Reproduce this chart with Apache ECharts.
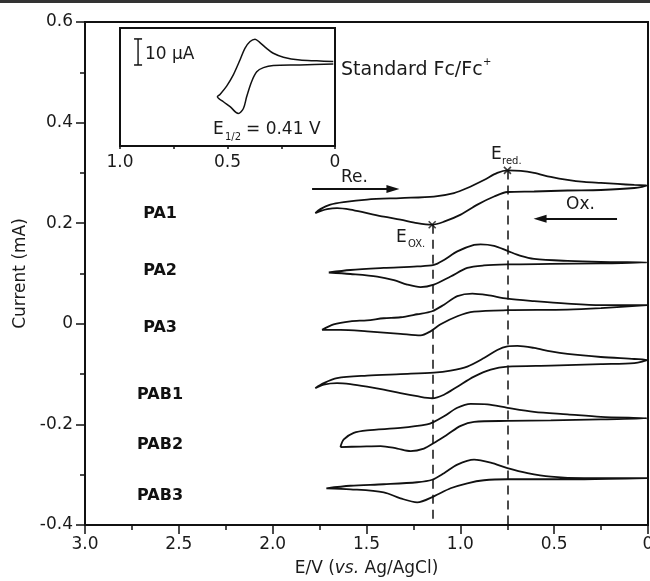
<!DOCTYPE html>
<html>
<head>
<meta charset="utf-8">
<script src="https://cdn.jsdelivr.net/npm/echarts@6/dist/echarts.min.js"></script>
<style>
html, body { margin: 0; padding: 0; background: #fff; }
#main { width: 650px; height: 581px; }
</style>
</head>
<body>
<div id="main"></div>
<script>
// cyclic voltammograms, [E (V vs Ag/AgCl), current (mA, offset)]
var PA1 = [[1.773,0.220],[1.746,0.228],[1.693,0.237],[1.622,0.242],[1.497,0.247],[1.319,0.250],[1.141,0.253],[1.034,0.260],[0.963,0.270],[0.874,0.286],[0.803,0.300],[0.749,0.305],[0.678,0.304],[0.607,0.300],[0.518,0.292],[0.429,0.286],[0.340,0.282],[0.251,0.280],[0.162,0.278],[0.073,0.276],[0.005,0.275],
  [0.073,0.270],[0.251,0.266],[0.429,0.265],[0.607,0.263],[0.749,0.262],[0.820,0.253],[0.909,0.237],[0.998,0.217],[1.087,0.203],[1.150,0.197],[1.230,0.200],[1.319,0.207],[1.408,0.213],[1.497,0.220],[1.586,0.227],[1.657,0.230],[1.710,0.228],[1.746,0.224],[1.773,0.220]];
var PA2 = [[1.701,0.102],[1.586,0.107],[1.408,0.111],[1.230,0.114],[1.141,0.117],[1.087,0.127],[1.016,0.144],[0.927,0.157],[0.892,0.158],[0.820,0.155],[0.749,0.145],[0.678,0.135],[0.607,0.129],[0.429,0.125],[0.251,0.123],[0.005,0.122],
  [0.251,0.120],[0.518,0.119],[0.749,0.118],[0.874,0.116],[0.963,0.111],[1.052,0.094],[1.141,0.078],[1.212,0.073],[1.283,0.078],[1.354,0.087],[1.443,0.094],[1.586,0.099],[1.701,0.102]];
var PA3 = [[1.737,-0.012],[1.675,-0.001],[1.586,0.005],[1.497,0.007],[1.408,0.011],[1.319,0.013],[1.230,0.019],[1.150,0.025],[1.087,0.038],[1.016,0.055],[0.936,0.060],[0.856,0.057],[0.749,0.050],[0.607,0.045],[0.429,0.040],[0.251,0.037],[0.005,0.037],
  [0.251,0.031],[0.429,0.028],[0.749,0.027],[0.927,0.024],[1.016,0.015],[1.105,-0.001],[1.159,-0.015],[1.212,-0.023],[1.319,-0.020],[1.497,-0.015],[1.639,-0.012],[1.737,-0.012]];
var PAB1 = [[1.773,-0.128],[1.728,-0.118],[1.657,-0.108],[1.497,-0.103],[1.319,-0.100],[1.141,-0.097],[1.052,-0.093],[0.963,-0.085],[0.874,-0.068],[0.803,-0.052],[0.749,-0.045],[0.696,-0.044],[0.607,-0.048],[0.518,-0.055],[0.429,-0.060],[0.251,-0.066],[0.073,-0.070],[0.005,-0.072],
  [0.073,-0.078],[0.251,-0.080],[0.518,-0.083],[0.749,-0.085],[0.838,-0.091],[0.927,-0.105],[1.016,-0.125],[1.087,-0.141],[1.150,-0.148],[1.230,-0.144],[1.319,-0.138],[1.408,-0.131],[1.497,-0.125],[1.586,-0.120],[1.657,-0.118],[1.728,-0.121],[1.773,-0.128]];
var PAB2 = [[1.639,-0.245],[1.621,-0.230],[1.568,-0.217],[1.497,-0.212],[1.319,-0.207],[1.177,-0.200],[1.141,-0.195],[1.087,-0.184],[1.016,-0.167],[0.945,-0.159],[0.856,-0.160],[0.749,-0.167],[0.607,-0.175],[0.429,-0.180],[0.251,-0.185],[0.005,-0.188],
  [0.251,-0.190],[0.518,-0.192],[0.749,-0.193],[0.927,-0.195],[0.998,-0.203],[1.069,-0.220],[1.141,-0.237],[1.194,-0.248],[1.265,-0.253],[1.336,-0.248],[1.425,-0.243],[1.533,-0.244],[1.639,-0.245]];
var PAB3 = [[1.714,-0.327],[1.586,-0.322],[1.408,-0.319],[1.230,-0.315],[1.150,-0.310],[1.087,-0.297],[1.016,-0.280],[0.927,-0.270],[0.838,-0.276],[0.749,-0.287],[0.642,-0.297],[0.518,-0.304],[0.340,-0.307],[0.005,-0.307],
  [0.340,-0.309],[0.607,-0.309],[0.749,-0.309],[0.874,-0.311],[0.963,-0.317],[1.052,-0.327],[1.141,-0.343],[1.230,-0.355],[1.319,-0.347],[1.408,-0.335],[1.586,-0.329],[1.714,-0.327]];

var curveNames = ['PA1', 'PA2', 'PA3', 'PAB1', 'PAB2', 'PAB3'];
var curves = [PA1, PA2, PA3, PAB1, PAB2, PAB3];
// sample label anchors [E, I]
var labelPos = [[2.60,0.219],[2.60,0.105],[2.60,-0.008],[2.60,-0.141],[2.60,-0.241],[2.60,-0.342]];

// peak markers E_red / E_ox and their dashed guide lines
var peakMarks = [[0.749,0.305],[1.150,0.197]];
var guideE = [0.745, 1.146];

// inset: ferrocene standard, [E, current in µA]
var fcCV = [[0.008,0.9],[0.085,1.2],[0.163,1.5],[0.240,2.6],[0.287,4.1],[0.318,6.0],[0.349,8.2],[0.372,9.5],[0.395,8.6],[0.419,6.0],[0.442,1.5],[0.473,-4.2],[0.504,-8.5],[0.535,-11.7],[0.547,-12.6],
  [0.519,-14.5],[0.488,-16.4],[0.450,-19.0],[0.426,-17.1],[0.411,-12.6],[0.388,-6.8],[0.364,-3.0],[0.333,-1.4],[0.287,-0.6],[0.163,-0.4],[0.008,0]];
var scaleBar = [[0.916,9.6],[0.916,-0.4]];

var black = '#111';
var ff = 'DejaVu Sans';
var fs = 17;

function fmt(v) {
    return Math.abs(v) < 1e-9 ? '0' : v.toFixed(1);
}

function txt(s, x, y, size, extra) {
    return {
        type: 'text', x: x, y: y, z: 100,
        style: Object.assign({
            text: s, font: size + 'px "' + ff + '"', fill: '#1a1a1a',
            textAlign: 'left', textVerticalAlign: 'middle', align: 'left', verticalAlign: 'middle'
        }, extra || {})
    };
}

var chart = echarts.init(document.getElementById('main'));

var series = curves.map(function (d, i) {
    return {
        name: curveNames[i], type: 'line', data: d,
        xAxisIndex: 0, yAxisIndex: 0,
        symbol: 'none', smooth: 0.3, silent: true,
        lineStyle: { color: black, width: 1.8 }
    };
});

series.push({
    name: 'labels', type: 'scatter', xAxisIndex: 0, yAxisIndex: 0,
    data: labelPos.map(function (p, i) { return { value: p, name: curveNames[i] }; }),
    symbolSize: 0, itemStyle: { color: black, opacity: 1 }, silent: true,
    label: {
        show: true, position: 'inside', formatter: '{b}', fontFamily: ff, fontWeight: 'bold',
        fontSize: 16, color: '#111', textBorderWidth: 0
    }
});

series.push({
    name: 'peaks', type: 'scatter', xAxisIndex: 0, yAxisIndex: 0,
    data: peakMarks,
    symbol: 'path://M0,0L10,10M10,0L0,10', symbolSize: 7,
    itemStyle: { color: 'transparent', borderColor: black, borderWidth: 1.6 },
    silent: true, z: 5,
    markLine: {
        silent: true, symbol: 'none', label: { show: false },
        lineStyle: { color: black, width: 1.5, type: [9, 6] },
        data: [
            [{ coord: [guideE[0], peakMarks[0][1]] }, { coord: [guideE[0], -0.4] }],
            [{ coord: [guideE[1], peakMarks[1][1]] }, { coord: [guideE[1], -0.4] }]
        ]
    }
});

// scan direction arrows
series.push({
    name: 'arrows', type: 'line', xAxisIndex: 0, yAxisIndex: 0, data: [],
    markLine: {
        silent: true, symbol: ['none', 'triangle'], symbolSize: [8, 13],
        label: { show: false },
        lineStyle: { color: black, width: 1.8, type: 'solid' },
        data: [
            [{ coord: [1.790, 0.268] }, { coord: [1.359, 0.268] }],
            [{ coord: [0.165, 0.209] }, { coord: [0.575, 0.209] }]
        ]
    }
});

series.push({
    name: 'Fc', type: 'line', data: fcCV, xAxisIndex: 1, yAxisIndex: 1,
    symbol: 'none', smooth: 0.3, silent: true,
    lineStyle: { color: black, width: 1.5 }
});
series.push({
    name: 'bar', type: 'line', data: scaleBar, xAxisIndex: 1, yAxisIndex: 1,
    symbol: 'rect', symbolSize: [8, 1.5], showSymbol: true, silent: true,
    itemStyle: { color: black }, lineStyle: { color: black, width: 1.4 }
});

chart.setOption({
    animation: false,
    backgroundColor: '#fff',
    grid: [
        { left: 85, right: 2, top: 22, bottom: 56, show: true, borderColor: black, borderWidth: 2, outerBoundsMode: 'none', containLabel: false },
        { left: 120, top: 28, width: 215, height: 118, show: true, borderColor: black, borderWidth: 2, backgroundColor: '#fff', outerBoundsMode: 'none', containLabel: false }
    ],
    xAxis: [{
        gridIndex: 0, type: 'value', min: 0, max: 3, interval: 0.5, inverse: true,
        axisLine: { show: true, onZero: false, lineStyle: { color: black, width: 2 } },
        axisTick: { show: true, length: 9, lineStyle: { color: black, width: 1.5 } },
        minorTick: { show: true, splitNumber: 2, length: 5, lineStyle: { color: black, width: 1.5 } },
        splitLine: { show: false },
        axisLabel: { color: '#1a1a1a', fontFamily: ff, fontSize: fs, margin: 11, showMinLabel: true, showMaxLabel: true, formatter: fmt },
        name: '{n|E/V (}{i|vs.}{n| Ag/AgCl)}', nameLocation: 'middle', nameGap: 35,
        nameTextStyle: {
            rich: {
                n: { fontFamily: ff, fontSize: fs, color: '#1a1a1a' },
                i: { fontFamily: ff, fontSize: fs, color: '#1a1a1a', fontStyle: 'italic' }
            }
        }
    }, {
        gridIndex: 1, type: 'value', min: 0, max: 1, interval: 0.25, inverse: true,
        axisLine: { show: true, onZero: false, lineStyle: { color: black, width: 2 } },
        axisTick: { show: true, length: 3, lineStyle: { color: black, width: 1.5 } },
        splitLine: { show: false },
        axisLabel: {
            color: '#1a1a1a', fontFamily: ff, fontSize: fs, margin: 8, showMinLabel: true, showMaxLabel: true,
            formatter: function (v) {
                return Math.abs(v * 2 - Math.round(v * 2)) < 1e-6 ? fmt(v) : '';
            }
        }
    }],
    yAxis: [{
        gridIndex: 0, type: 'value', min: -0.4, max: 0.6, interval: 0.2,
        axisLine: { show: true, onZero: false, lineStyle: { color: black, width: 2 } },
        axisTick: { show: true, length: 9, lineStyle: { color: black, width: 1.5 } },
        minorTick: { show: true, splitNumber: 2, length: 5, lineStyle: { color: black, width: 1.5 } },
        splitLine: { show: false },
        axisLabel: { color: '#1a1a1a', fontFamily: ff, fontSize: fs, margin: 12, showMinLabel: true, showMaxLabel: true, formatter: fmt },
        name: 'Current (mA)', nameLocation: 'middle', nameGap: 52,
        nameTextStyle: { fontFamily: ff, fontSize: fs, color: '#1a1a1a' }
    }, {
        gridIndex: 1, type: 'value', min: -31.5, max: 13.8, show: false
    }],
    graphic: [
        { type: 'rect', left: 0, top: 0, shape: { width: 650, height: 3 }, style: { fill: '#333' } },
        txt('Re.', 341, 178, fs),
        txt('Ox.', 566, 205, fs),
        txt('E', 491, 155, fs),
        txt('red.', 502, 161, 10),
        txt('E', 396, 238, fs),
        txt('OX.', 408, 244, 10),
        txt('10 µA', 145, 55, fs),
        txt('E', 213, 130, fs),
        txt('1/2', 225, 137, 10),
        txt('= 0.41 V', 246, 130, fs),
        txt('Standard Fc/Fc', 341, 70, 19),
        txt('+', 483, 62, 10)
    ],
    series: series
});
</script>
</body>
</html>
